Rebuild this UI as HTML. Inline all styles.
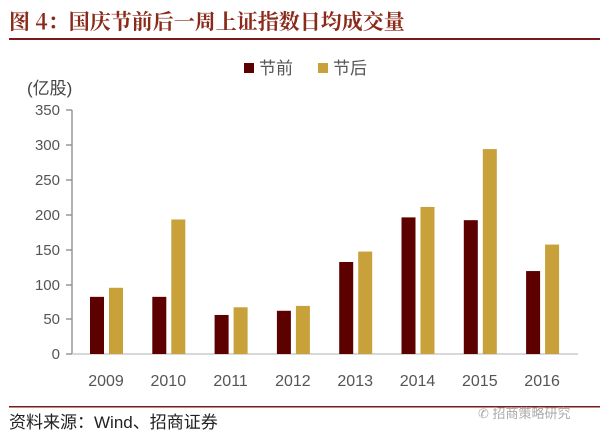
<!DOCTYPE html>
<html><head><meta charset="utf-8"><style>
body{margin:0;background:#fff;width:600px;height:438px;overflow:hidden;font-family:"Liberation Sans","Noto Sans CJK SC",sans-serif}
</style></head><body>
<svg width="600" height="438" xmlns="http://www.w3.org/2000/svg" font-family="Liberation Sans, Noto Sans CJK SC, sans-serif">
<text x="9" y="29" font-size="21" font-weight="bold" fill="#8b2a1a" font-family="Noto Serif CJK SC, serif">图 4：国庆节前后一周上证指数日均成交量</text>
<rect x="9" y="38" width="591" height="2" fill="#7a1a1a"/>
<rect x="244" y="63" width="10" height="10" fill="#5c0000"/>
<text x="259" y="74" font-size="17" fill="#555">节前</text>
<rect x="318" y="63" width="10" height="10" fill="#c9a13a"/>
<text x="333" y="74" font-size="17" fill="#555">节后</text>
<text x="27" y="94" font-size="17" fill="#444">(亿股)</text>
<g font-size="15" fill="#555" text-anchor="end">
<text x="60" y="359">0</text><text x="60" y="324">50</text><text x="60" y="290">100</text><text x="60" y="255">150</text><text x="60" y="220">200</text><text x="60" y="185">250</text><text x="60" y="150">300</text><text x="60" y="115">350</text>
</g>
<g stroke="#888" stroke-width="1.3">
<line x1="72" y1="110" x2="72" y2="354"/>
<line x1="66" y1="110" x2="72" y2="110"/><line x1="66" y1="145" x2="72" y2="145"/><line x1="66" y1="180" x2="72" y2="180"/><line x1="66" y1="215" x2="72" y2="215"/><line x1="66" y1="250" x2="72" y2="250"/><line x1="66" y1="285" x2="72" y2="285"/><line x1="66" y1="319" x2="72" y2="319"/><line x1="66" y1="354" x2="72" y2="354"/>
</g>
<line x1="72" y1="354" x2="578" y2="354" stroke="#ccc" stroke-width="1.5"/>
<g id="bars"></g>
<g font-size="16" fill="#555" text-anchor="middle" id="labels"></g>
<rect x="9" y="406" width="591" height="1.5" fill="#7a1a1a"/>
<text x="9" y="428" font-size="17" fill="#222">资料来源：Wind、招商证券</text>
<text x="478" y="418" font-size="13" fill="#aaa">✆ 招商策略研究</text>
<script>
var d=[[2009,82,95],[2010,82,193],[2011,56,67],[2012,62,69],[2013,132,147],[2014,196,211],[2015,192,294],[2016,119,157]];
var b=document.getElementById('bars'),l=document.getElementById('labels'),ns='http://www.w3.org/2000/svg';
d.forEach(function(r,i){var c=106+i*62.3;
[[r[1],c-16,'#5c0000'],[r[2],c+3,'#c9a13a']].forEach(function(v){var h=v[0]*0.697,e=document.createElementNS(ns,'rect');
e.setAttribute('x',v[1]);e.setAttribute('y',354-h);e.setAttribute('width',14);e.setAttribute('height',h);e.setAttribute('fill',v[2]);b.appendChild(e);});
var t=document.createElementNS(ns,'text');t.setAttribute('x',c);t.setAttribute('y',386);t.textContent=r[0];l.appendChild(t);});
</script>
</svg>
</body></html>
